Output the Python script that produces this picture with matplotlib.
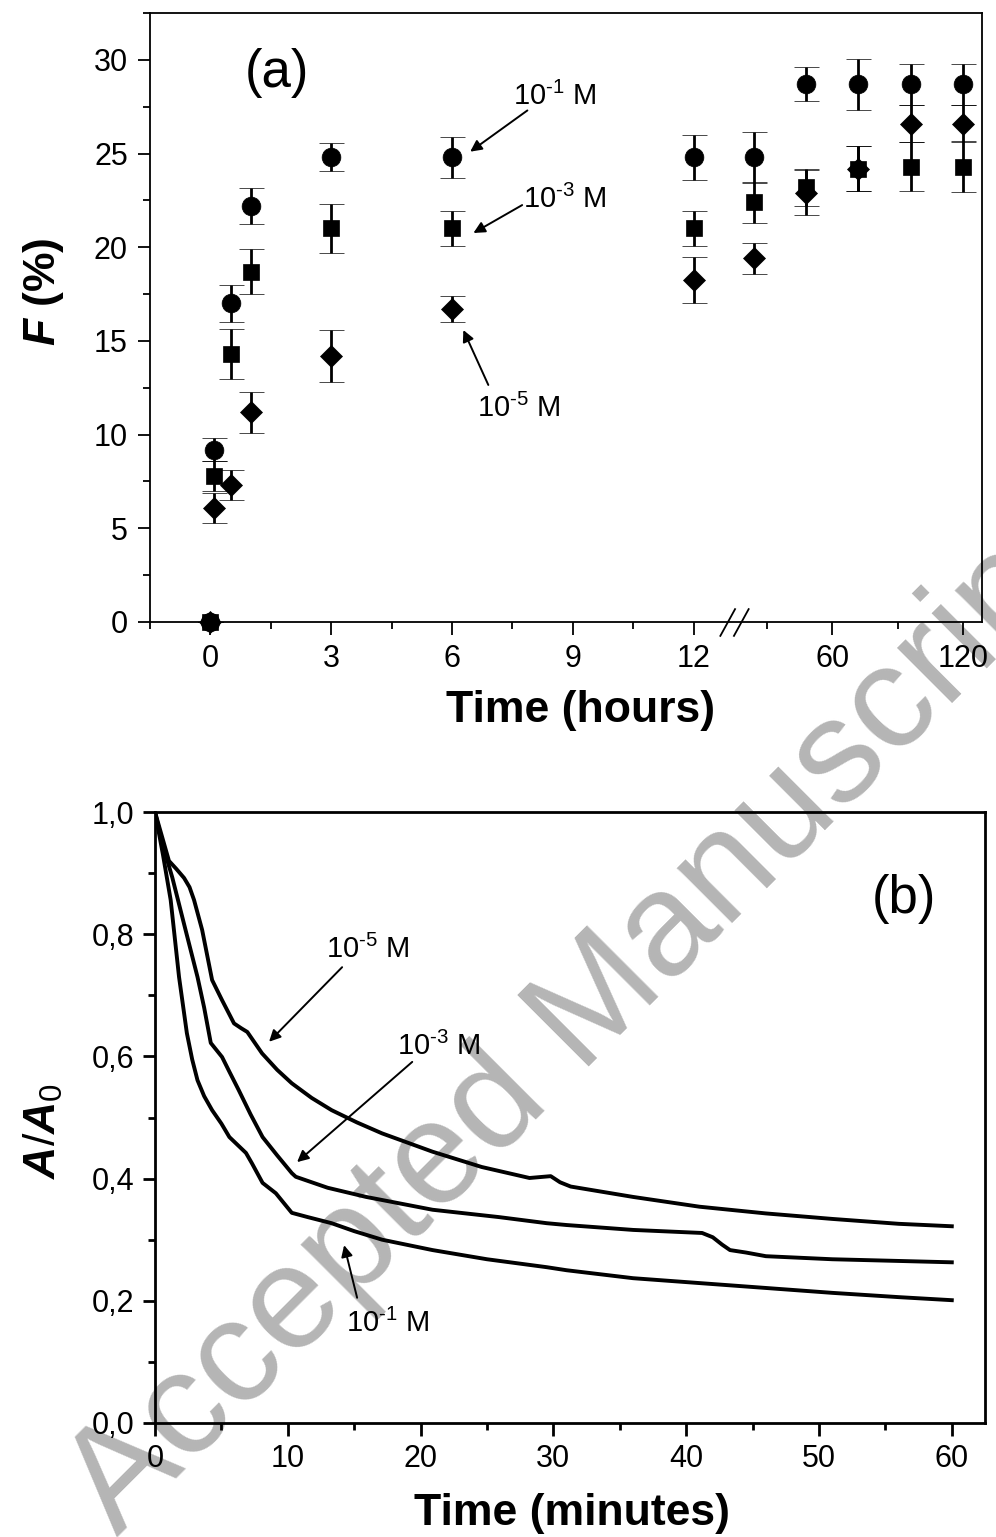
import numpy as np
import matplotlib
matplotlib.use("Agg")
import matplotlib.pyplot as plt
from matplotlib.ticker import FixedLocator, FuncFormatter
from matplotlib.path import Path
from matplotlib import transforms

plt.rcParams["font.family"] = ["Liberation Sans", "DejaVu Sans"]
plt.rcParams["mathtext.fontset"] = "custom"
plt.rcParams["mathtext.rm"] = "Liberation Sans"
plt.rcParams["mathtext.it"] = "Liberation Sans:italic:bold"
plt.rcParams["mathtext.bf"] = "Liberation Sans:bold"

# (a) F (%) vs time in hours
hours = [0, 0.083, 0.5, 1, 3, 6, 12, 24, 48, 72, 96, 120]
f_m1 = [0, 9.2, 17.0, 22.2, 24.8, 24.8, 24.8, 24.8, 28.7, 28.7, 28.7, 28.7]
f_m1_err = [0, 0.6, 1.0, 0.95, 0.75, 1.1, 1.2, 1.35, 0.9, 1.35, 1.1, 1.1]
f_m3 = [0, 7.8, 14.3, 18.7, 21.0, 21.0, 21.0, 22.4, 23.2, 24.2, 24.3, 24.3]
f_m3_err = [0, 0.8, 1.35, 1.2, 1.3, 0.95, 0.95, 1.1, 1.0, 1.2, 1.3, 1.35]
f_m5 = [0, 6.1, 7.3, 11.2, 14.2, 16.7, 18.25, 19.4, 22.9, 24.2, 26.6, 26.6]
f_m5_err = [0, 0.8, 0.8, 1.1, 1.4, 0.7, 1.25, 0.85, 1.2, 1.2, 1.0, 1.0]

hour_ticks = [0, 3, 6, 9, 12, 60, 120]
hour_minor = [-1.5, 1.5, 4.5, 7.5, 10.5, 30, 90]

# (b) A/A0 vs time in minutes
t_m5 = [0, 1.05, 1.6, 2.19, 2.6, 2.94, 3.55, 4.3, 5.05, 5.95, 6.5, 6.95, 8.06, 9.2, 10.3, 11.8, 13.3,
        15.2, 17.1, 20.9, 24.6, 28.2, 29.8, 30.5, 31.3, 36, 41, 46, 51, 56, 60]
a_m5 = [1.0, 0.92, 0.907, 0.892, 0.877, 0.856, 0.807, 0.725, 0.692, 0.654, 0.646, 0.640, 0.605, 0.578, 0.556, 0.532, 0.512,
        0.492, 0.474, 0.444, 0.419, 0.401, 0.404, 0.394, 0.387, 0.370, 0.354, 0.343, 0.334, 0.326, 0.322]
t_m3 = [0, 0.6, 1.3, 2.3, 3.2, 3.7, 4.2, 5.05, 5.6, 6.3, 7.2, 8.1, 9.2, 10.3, 10.6, 13, 15.9, 20.9, 25.9,
        29.5, 31, 36, 41.2, 42, 42.7, 43.3, 44.5, 46, 51, 60]
a_m3 = [1.0, 0.945, 0.893, 0.807, 0.730, 0.68, 0.622, 0.599, 0.575, 0.545, 0.505, 0.468, 0.438, 0.409, 0.403, 0.385, 0.370, 0.349, 0.337,
        0.327, 0.324, 0.316, 0.311, 0.304, 0.292, 0.283, 0.279, 0.273, 0.268, 0.263]
t_m1 = [0, 0.6, 1.18, 1.81, 2.4, 2.8, 3.2, 3.7, 4.3, 5.0, 5.6, 6.85, 7.3, 8.1, 9.1, 10.3, 11.5, 13.3,
        15, 17.1, 20.9, 25, 29.5, 31, 36, 41, 46, 51, 56, 60]
a_m1 = [1.0, 0.93, 0.856, 0.730, 0.638, 0.595, 0.561, 0.535, 0.512, 0.490, 0.468, 0.442, 0.425, 0.393, 0.376, 0.344, 0.337, 0.327,
        0.314, 0.300, 0.283, 0.268, 0.255, 0.250, 0.237, 0.229, 0.221, 0.213, 0.206, 0.201]

# broken time axis: 0..13 h linear, then 15..130 h compressed
K = 0.0542


def fwd(x):
    x = np.asarray(x, dtype=float)
    return np.where(x <= 13, x, 13 + (np.maximum(x, 15) - 15) * K)


def inv(u):
    u = np.asarray(u, dtype=float)
    return np.where(u <= 13, u, 15 + (u - 13) / K)


W, H = 996, 1537
fig = plt.figure(figsize=(W / 100, H / 100), dpi=100)
fig.patch.set_facecolor("white")


def px_axes(l, t, r, b):
    return fig.add_axes([l / W, 1 - b / H, (r - l) / W, (b - t) / H])


arrow = dict(arrowstyle="-|>", color="k", lw=1.4, shrinkA=0, shrinkB=0,
             mutation_scale=17)

# ---------- panel (a)
ax1 = px_axes(150, 13, 982, 622)
ax1.set_facecolor("none")
ax1.set_xscale("function", functions=(fwd, inv))

series = [(f_m1, f_m1_err, "o", 13.5), (f_m3, f_m3_err, "s", 12), (f_m5, f_m5_err, "D", 11.5)]
for vals, errs, mk, ms in series:
    eb = ax1.errorbar(hours, vals, yerr=errs, fmt=mk, color="k", ms=ms, mew=0.5,
                      capsize=9, capthick=2.6, elinewidth=2.0)
    for art in eb.get_children():
        art.set_clip_on(False)

ax1.set_xlim(-1.5, 128.6)
ax1.set_ylim(0, 32.5)
ax1.xaxis.set_major_locator(FixedLocator(hour_ticks))
ax1.xaxis.set_minor_locator(FixedLocator(hour_minor))
ax1.xaxis.set_major_formatter(FuncFormatter(lambda v, p: f"{v:g}"))
ax1.yaxis.set_major_locator(FixedLocator(np.arange(0, 31, 5)))
ax1.yaxis.set_minor_locator(FixedLocator(np.arange(2.5, 33, 5)))
for sp in ax1.spines.values():
    sp.set_linewidth(1.3)
ax1.tick_params(which="both", direction="out", width=1.3, labelsize=22)
ax1.tick_params(which="major", length=9)
ax1.tick_params(which="minor", length=5)
ax1.tick_params(axis="x", pad=7)
ax1.tick_params(axis="y", pad=7)

# axis break mark
brk = Path([(-1.03, -1), (0.07, 1), (-0.07, -1), (1.03, 1)],
           [Path.MOVETO, Path.LINETO, Path.MOVETO, Path.LINETO])
ax1.plot([13], [0], marker=brk, ms=21, mec="k", mfc="none", mew=1.3, ls="none",
         transform=transforms.blended_transform_factory(ax1.transData, ax1.transAxes),
         clip_on=False)

ax1.set_xlabel("Time (hours)", fontsize=32, fontweight="bold")
ax1.set_ylabel(r"$\mathit{F}$ (%)", fontsize=32, fontweight="bold")
ax1.xaxis.set_label_coords(0.517, -0.1116)
ax1.yaxis.set_label_coords(-0.101, 0.5416)

ax1.text(1.65, 29.3, "(a)", fontsize=38, ha="center", va="center")
ax1.text(7.52, 27.6, r"10$^{\text{-1}}$ M", fontsize=21, va="baseline")
ax1.annotate("", xy=(6.45, 25.1), xytext=(7.87, 27.3), arrowprops=arrow)
ax1.text(7.77, 22.1, r"10$^{\text{-3}}$ M", fontsize=21, va="baseline")
ax1.annotate("", xy=(6.53, 20.76), xytext=(7.74, 22.25), arrowprops=arrow)
ax1.text(6.63, 10.94, r"10$^{\text{-5}}$ M", fontsize=21, va="baseline")
ax1.annotate("", xy=(6.28, 15.58), xytext=(6.90, 12.65), arrowprops=arrow)

# ---------- panel (b)
ax2 = px_axes(155, 812, 985, 1423)
ax2.set_facecolor("none")
for tt, aa in [(t_m5, a_m5), (t_m3, a_m3), (t_m1, a_m1)]:
    ax2.plot(tt, aa, color="k", lw=2.8, solid_joinstyle="round")

ax2.set_xlim(0, 62.5)
ax2.set_ylim(0, 1.0)
ax2.xaxis.set_major_locator(FixedLocator(np.arange(0, 61, 10)))
ax2.xaxis.set_minor_locator(FixedLocator(np.arange(5, 60, 10)))
ax2.yaxis.set_major_locator(FixedLocator(np.arange(0, 1.01, 0.2)))
ax2.yaxis.set_minor_locator(FixedLocator(np.arange(0.1, 1.0, 0.2)))
ax2.yaxis.set_major_formatter(FuncFormatter(lambda v, p: f"{v:.1f}".replace(".", ",")))
for sp in ax2.spines.values():
    sp.set_linewidth(2.0)
ax2.tick_params(which="both", direction="out", width=2.0, labelsize=22)
ax2.tick_params(which="major", length=9)
ax2.tick_params(which="minor", length=5)
ax2.tick_params(axis="x", pad=6)
ax2.tick_params(axis="y", pad=6)

ax2.set_xlabel("Time (minutes)", fontsize=32, fontweight="bold")
ax2.set_ylabel(r"$\mathit{A/A}_{\mathit{0}}$", fontsize=32, fontweight="bold")
ax2.xaxis.set_label_coords(0.502, -0.1146)
ax2.yaxis.set_label_coords(-0.108, 0.478)

ax2.text(56.4, 0.857, "(b)", fontsize=38, ha="center", va="center")
ax2.text(12.89, 0.761, r"10$^{\text{-5}}$ M", fontsize=21, va="baseline")
ax2.annotate("", xy=(8.59, 0.624), xytext=(14.09, 0.746), arrowprops=arrow)
ax2.text(18.24, 0.602, r"10$^{\text{-3}}$ M", fontsize=21, va="baseline")
ax2.annotate("", xy=(10.70, 0.427), xytext=(19.37, 0.591), arrowprops=arrow)
ax2.text(14.39, 0.149, r"10$^{\text{-1}}$ M", fontsize=21, va="baseline")
ax2.annotate("", xy=(14.24, 0.291), xytext=(15.22, 0.205), arrowprops=arrow)

# watermark, behind the axes content
fig.text(604 / W, 1 - 1051 / H, "Accepted Manuscript", rotation=45,
         rotation_mode="anchor", ha="center", va="baseline", fontsize=106,
         color="#b5b5b5", zorder=-5)

fig.savefig("out.png", dpi=100)
